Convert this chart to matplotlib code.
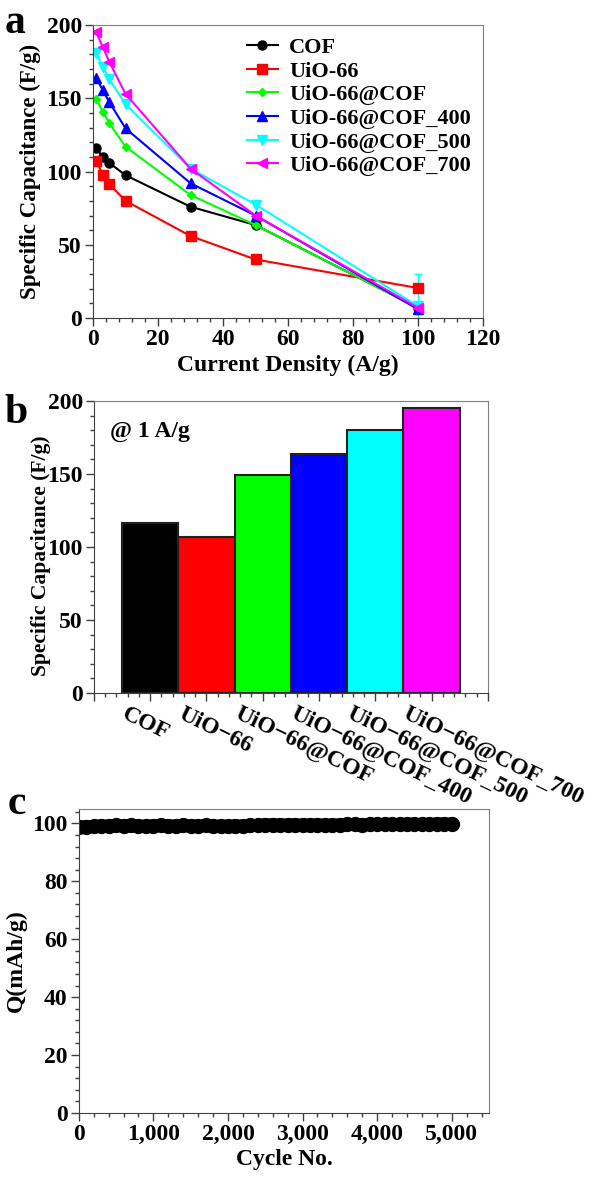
import numpy as np
import matplotlib
matplotlib.use('Agg')
import matplotlib.pyplot as plt
from matplotlib.ticker import MultipleLocator, StrMethodFormatter
from matplotlib.transforms import blended_transform_factory

plt.rcParams['font.family'] = 'Liberation Serif'
plt.rcParams['font.weight'] = 'bold'
plt.rcParams['axes.labelweight'] = 'bold'

# panel a: rate capability
current = [1, 3, 5, 10, 30, 50, 100]
names = ["COF", "UiO-66", "UiO-66@COF", "UiO-66@COF_400", "UiO-66@COF_500", "UiO-66@COF_700"]
cap_cof = [116, 110, 106, 97.5, 76, 63.5, 7]
cap_uio = [107, 98, 91.5, 80, 56, 40, 20.5]
cap_uc = [149.5, 141, 133, 117, 84, 63.5, 7]
cap_400 = [164, 155.5, 147.5, 129.5, 92, 70, 6]
cap_500 = [181, 171.5, 163, 146, 102, 77.5, 8]
cap_700 = [195, 185, 175, 153, 102, 70, 7]
err_500 = [8, 22]  # lower, upper at 100 A/g

# panel b: capacitance at 1 A/g
bar_labels = ["COF", "UiO\u221266", "UiO\u221266@COF", "UiO\u221266@COF_400",
              "UiO\u221266@COF_500", "UiO\u221266@COF_700"]
bar_vals = [116.5, 107, 149, 164, 180, 195.5]

# panel c: cycling
cycles = np.arange(0, 5001, 100)
q_vals = [98.9, 98.9, 99.0, 99.2, 99.2, 99.3, 99.2, 99.3, 99.2, 99.1,
          99.2, 99.3, 99.2, 99.2, 99.3, 99.2, 99.2, 99.3, 99.2, 99.1,
          99.1, 99.2, 99.2, 99.3, 99.3, 99.6, 99.6, 99.5, 99.6, 99.6,
          99.5, 99.5, 99.6, 99.5, 99.5, 99.6, 99.7, 99.7, 99.6, 99.7,
          99.7, 99.8, 99.7, 99.7, 99.8, 99.8, 99.7, 99.8, 99.9, 99.9,
          99.9]

colors = ['#000000', '#FF0000', '#00FF00', '#0000FF', '#00FFFF', '#FF00FF']
markers = ['o', 's', 'D', '^', 'v', '<']
msizes = [6.5, 6.5, 4.5, 6.5, 6.5, 6.5]

fig = plt.figure(figsize=(6.06, 11.78), dpi=100)
fs = 17


def style(ax):
    for s in ['top', 'right']:
        ax.spines[s].set_color('#808080')
    for s in ['left', 'bottom']:
        ax.spines[s].set_color('#404040')
    ax.tick_params(which='major', length=6, width=1, labelsize=fs, direction='out',
                   color='#404040', pad=2)
    ax.tick_params(which='minor', length=3, width=1, direction='out', color='#404040')
    ax.tick_params(top=False, right=False)


# ---- a ----
ax1 = fig.add_axes([0.1535, 0.730, 0.6436, 0.2487])
series = [cap_cof, cap_uio, cap_uc, cap_400, cap_500, cap_700]
for i, ys in enumerate(series):
    ax1.plot(current, ys, color=colors[i], marker=markers[i], ms=msizes[i], lw=1.5, label=names[i])
ax1.errorbar([current[-1]], [cap_500[-1]], yerr=[[err_500[0]], [err_500[1]]],
             color='#00FFFF', capsize=3, lw=1, zorder=1)
ax1.set_xlim(0, 120)
ax1.set_ylim(0, 200)
ax1.xaxis.set_major_locator(MultipleLocator(20))
ax1.xaxis.set_minor_locator(MultipleLocator(4))
ax1.yaxis.set_major_locator(MultipleLocator(50))
ax1.yaxis.set_minor_locator(MultipleLocator(10))
ax1.set_xlabel("Current Density (A/g)", fontsize=fs, labelpad=3)
ax1.set_ylabel("Specific Capacitance (F/g)", fontsize=16.5, labelpad=4)
style(ax1)
leg = ax1.legend(loc='upper right', frameon=False, fontsize=16, handlelength=1.4,
                 handletextpad=0.5, labelspacing=0.14, borderaxespad=0.15)
fig.text(0.008, 0.972, "a", fontsize=30, fontweight='bold', va='baseline')

# ---- b ----
ax2 = fig.add_axes([0.155, 0.4117, 0.650, 0.2479])
pos = np.arange(1, len(bar_vals) + 1)
ax2.bar(pos, bar_vals, width=1.0, color=colors, edgecolor='#202020', linewidth=1.5)
ax2.set_xlim(0, 7)
ax2.set_ylim(0, 200)
ax2.yaxis.set_major_locator(MultipleLocator(50))
ax2.yaxis.set_minor_locator(MultipleLocator(10))
ax2.xaxis.set_major_locator(MultipleLocator(1))
ax2.xaxis.set_minor_locator(MultipleLocator(0.2))
ax2.set_xticklabels([])
ax2.set_ylabel("Specific Capacitance (F/g)", fontsize=15.5, labelpad=4)
ax2.yaxis.set_label_coords(-0.11, 0.47)
style(ax2)
tr = blended_transform_factory(ax2.transData, ax2.transAxes)
for p, lab in zip(pos, bar_labels):
    ax2.text(p - 0.4, -0.035, lab, transform=tr, rotation=-26, rotation_mode='anchor',
             ha='left', va='top', fontsize=fs)
ax2.text(0.04, 0.93, "@ 1 A/g", transform=ax2.transAxes, fontsize=fs, va='top')
fig.text(0.008, 0.641, "b", fontsize=30, fontweight='bold', va='baseline')

# ---- c ----
ax3 = fig.add_axes([0.130, 0.0552, 0.677, 0.2581])
ax3.plot(cycles, q_vals, color='black', lw=9, marker='o', ms=10, solid_capstyle='round')
ax3.set_xlim(0, 5500)
ax3.set_ylim(0, 105)
ax3.xaxis.set_major_locator(MultipleLocator(1000))
ax3.xaxis.set_minor_locator(MultipleLocator(200))
ax3.xaxis.set_major_formatter(StrMethodFormatter('{x:,.0f}'))
ax3.yaxis.set_major_locator(MultipleLocator(20))
ax3.yaxis.set_minor_locator(MultipleLocator(4))
ax3.set_xlabel("Cycle No.", fontsize=fs, labelpad=3)
ax3.set_ylabel("Q(mAh/g)", fontsize=fs, labelpad=4)
style(ax3)
fig.text(0.012, 0.309, "c", fontsize=30, fontweight='bold', va='baseline')

fig.savefig("out.png", dpi=100)
